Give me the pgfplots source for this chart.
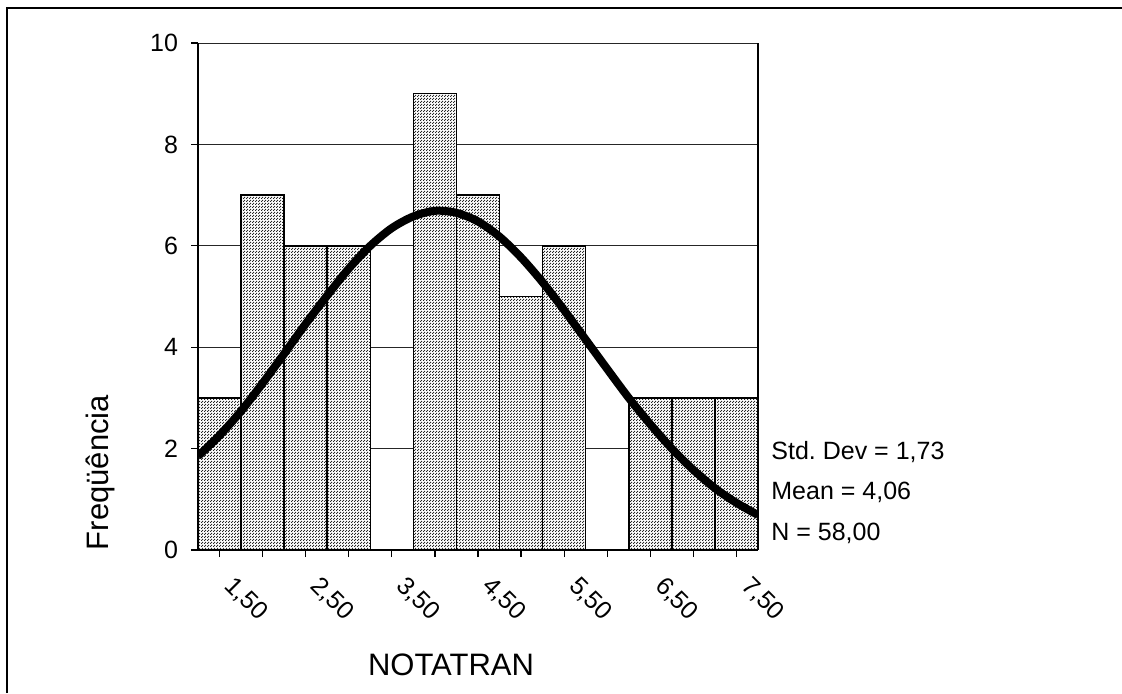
\documentclass[border=0pt]{standalone}
\usepackage{fontspec}
\setmainfont{Liberation Sans}
\usepackage{pgfplots}
\pgfplotsset{compat=1.18}
\usetikzlibrary{patterns.meta}

% fine checkerboard used to shade the histogram bars
\pgfdeclarepattern{
  name=finecheck,
  type=uncolored,
  bottom left={\pgfpoint{0pt}{0pt}},
  top right={\pgfpoint{1.5pt}{1.5pt}},
  tile size={\pgfpoint{1.5pt}{1.5pt}},
  code={
    \pgfpathrectangle{\pgfpoint{0pt}{0pt}}{\pgfpoint{0.7pt}{0.7pt}}
    \pgfpathrectangle{\pgfpoint{0.75pt}{0.75pt}}{\pgfpoint{0.7pt}{0.7pt}}
    \pgfusepath{fill}
  }
}
\newcommand{\tl}[1]{{\fontsize{12.5}{14}\selectfont #1}}

\begin{document}
\begin{tikzpicture}
\useasboundingbox (0,0) rectangle (561pt,346.5pt);
\draw[line width=0.75pt] (3.5pt,0) -- (3.5pt,342.5pt) -- (561pt,342.5pt);

\begin{axis}[
  at={(99pt,71.5pt)}, anchor=south west,
  width=280pt, height=253.5pt, scale only axis,
  xmin=1.25, xmax=7.75, ymin=0, ymax=10,
  axis x line*=bottom, axis y line*=box, ytick pos=left,
  axis line style={line width=1pt},
  ytick={0,2,...,10},
  yticklabels={\tl{0},\tl{2},\tl{4},\tl{6},\tl{8},\tl{10}},
  xtick={1.5,2.5,...,7.5},
  xticklabels={\tl{1,50},\tl{2,50},\tl{3,50},\tl{4,50},\tl{5,50},\tl{6,50},\tl{7,50}},
  minor xtick={2,3,...,7},
  tick align=outside,
  major tick length=3.5pt, minor tick length=3.5pt,
  tick style={black, line width=0.6pt},
  ymajorgrids, grid style={black!85, line width=0.5pt},
  yticklabel style={xshift=-3pt},
  xticklabel style={rotate=-45, anchor=north west, xshift=8.5pt, yshift=3pt},
]
% frequencies per bin (width 0,50)
\addplot[ybar, bar width=0.5, bar shift=0pt, draw=black, line width=0.75pt,
  fill=white, postaction={pattern=finecheck, pattern color=black!85}]
  coordinates {
  (1.5,3) (2.0,7) (2.5,6) (3.0,6) (4.0,9) (4.5,7) (5.0,5) (5.5,6)
  (6.5,3) (7.0,3) (7.5,3)
  };
% fitted normal curve
\addplot[black, line width=4pt, smooth, no marks] coordinates {
  (1.25,1.85) (1.50,2.26) (1.75,2.74) (2.00,3.29) (2.25,3.87) (2.50,4.46)
  (2.75,5.02) (3.00,5.55) (3.25,6.00) (3.50,6.35) (3.75,6.58) (4.00,6.69)
  (4.25,6.65) (4.50,6.48) (4.75,6.18) (5.00,5.77) (5.25,5.28) (5.50,4.73)
  (5.75,4.15) (6.00,3.57) (6.25,3.00) (6.50,2.48) (6.75,2.00) (7.00,1.58)
  (7.25,1.22) (7.50,0.93) (7.75,0.69)
  };
\end{axis}

\node[anchor=base, font=\fontsize{15.5}{18}\selectfont] at (225.5pt,9pt) {NOTATRAN};
\node[anchor=base, rotate=90, font=\fontsize{15.5}{18}\selectfont] at (54pt,110.25pt) {Freqüência};
\begin{scope}[every node/.style={anchor=base west, inner sep=0pt, font=\fontsize{12.5}{15}\selectfont}]
\node at (385.5pt,117pt) {Std.\ Dev = 1,73};
\node at (385.5pt,97pt) {Mean = 4,06};
\node at (385.5pt,76.5pt) {N = 58,00};
\end{scope}
\end{tikzpicture}
\end{document}
